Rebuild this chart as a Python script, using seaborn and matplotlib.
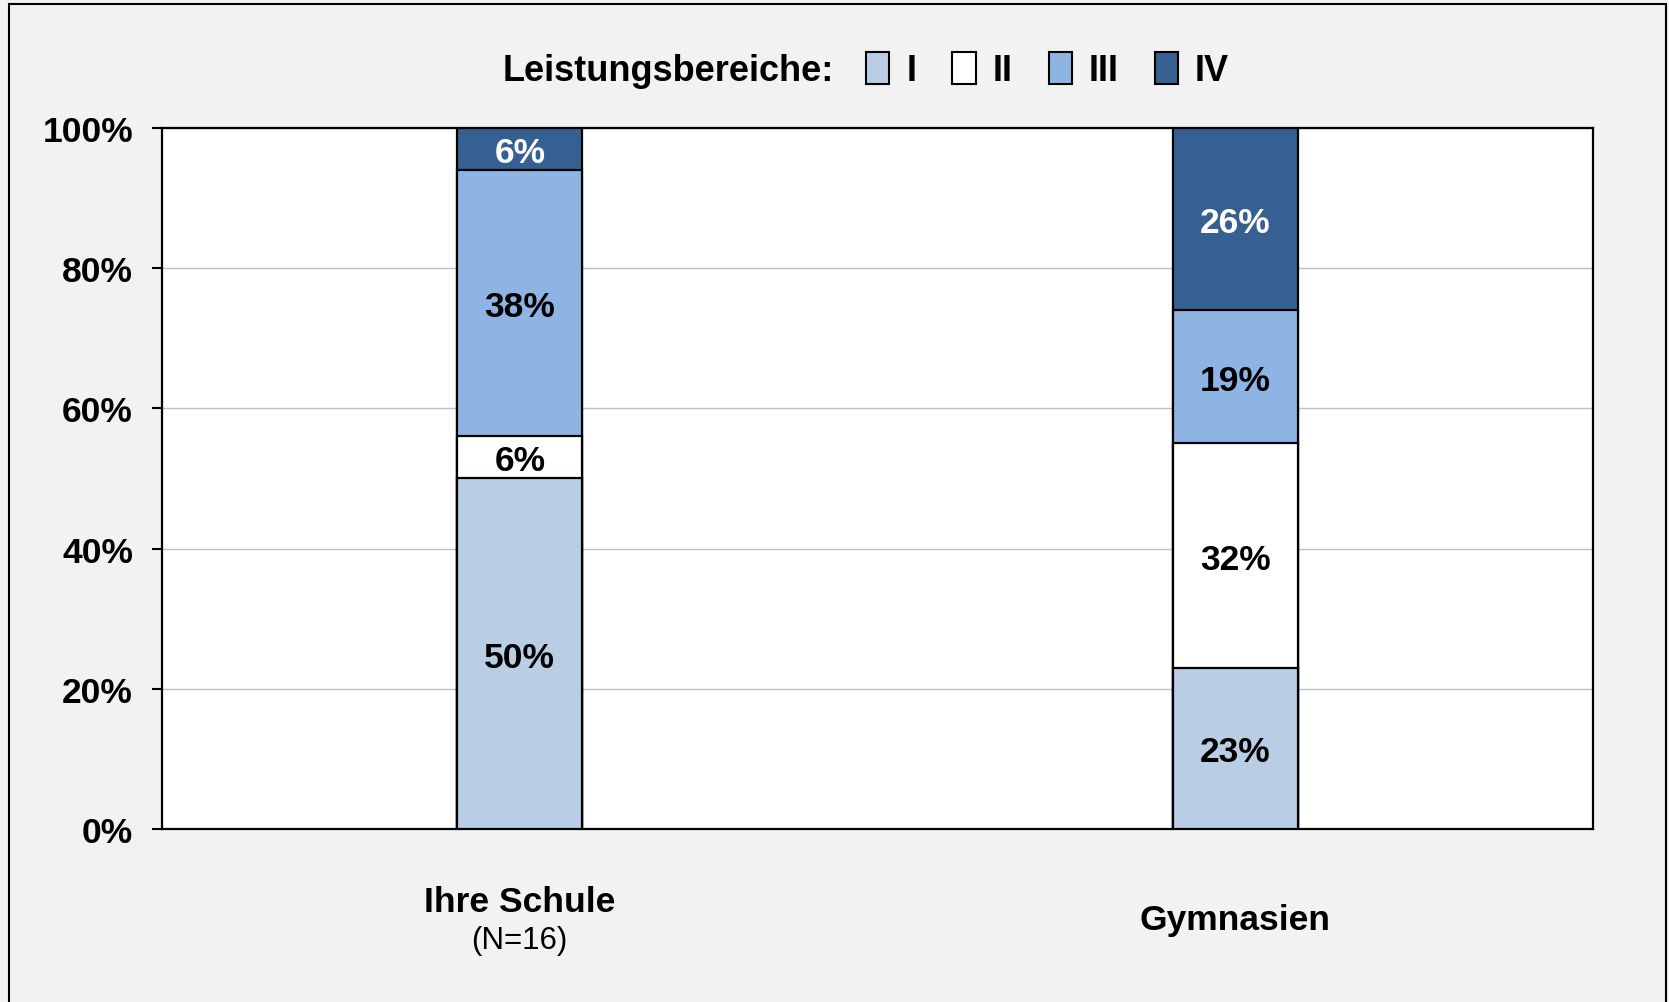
import numpy as np
import pandas as pd
import seaborn as sns
import matplotlib.pyplot as plt
from matplotlib.patches import Patch, Rectangle
import matplotlib.transforms as mtransforms

# DATA

categories = ["Ihre Schule", "Gymnasien"]
sublabels = ["(N=16)", ""]
levels = ["I", "II", "III", "IV"]
level_I = [50, 23]
level_II = [6, 32]
level_III = [38, 19]
level_IV = [6, 26]
colors = ["#B9CDE5", "#FFFFFF", "#8EB4E3", "#366092"]
text_colors = ["black", "black", "black", "white"]

sns.set_theme(style="white")
plt.rcParams['font.family'] = ['Liberation Sans', 'DejaVu Sans']
plt.rcParams['text.color'] = 'black'
plt.rcParams['ytick.labelcolor'] = 'black'

df = pd.DataFrame({"category": categories, "I": level_I, "II": level_II,
                   "III": level_III, "IV": level_IV})
cum = df[levels].cumsum(axis=1)

fig = plt.figure(figsize=(16.69, 10.03), dpi=100)
fig.patch.set_facecolor("#F2F2F2")
ax = fig.add_axes([0.0971, 0.1725, 0.8574, 0.6989])
ax.set_facecolor("white")

# stacked bars: draw cumulative totals from the top down
for lvl, col in reversed(list(zip(levels, colors))):
    sns.barplot(x=df["category"], y=cum[lvl], color=col, width=0.175,
                edgecolor="black", linewidth=1.6, saturation=1, ax=ax, zorder=3)

# value labels in the middle of each segment
for i in range(len(categories)):
    bottom = 0
    for lvl, tc in zip(levels, text_colors):
        v = df.loc[i, lvl]
        ax.text(i, bottom + v / 2 - 0.5, f"{v}%", ha="center", va="center",
                fontsize=25.5, fontweight="bold", color=tc, zorder=5)
        bottom += v

ax.set_xlim(-0.5, 1.5)
ax.set_ylim(0, 100)
ax.set_yticks(np.arange(0, 101, 20))
ax.set_yticklabels([f"{t}%" for t in range(0, 101, 20)], fontsize=25.5,
                   fontweight="bold", color="black")
ax.tick_params(axis="y", left=True, length=7, width=1.5, pad=14, color="black")
ax.tick_params(axis="x", bottom=False)
ax.set_xticks([0, 1])
ax.set_xticklabels(["", ""])
ax.set_xlabel("")
ax.set_ylabel("")
ax.yaxis.grid(True, color="#BFBFBF", linewidth=1)
ax.set_axisbelow(True)
for s in ax.spines.values():
    s.set_color("black")
    s.set_linewidth(1.6)
    s.set_visible(True)

# category labels under the bars
trans = mtransforms.blended_transform_factory(ax.transData, ax.transAxes)
for i, (cat, sub) in enumerate(zip(categories, sublabels)):
    if sub:
        ax.text(i, -0.104, cat, transform=trans, ha="center", va="center",
                fontsize=25.5, fontweight="bold")
        ax.text(i, -0.159, sub, transform=trans, ha="center", va="center", fontsize=22.5)
    else:
        ax.text(i, -0.129, cat, transform=trans, ha="center", va="center",
                fontsize=25.5, fontweight="bold")

# legend at the top
fig.text(0.301, 0.929, "Leistungsbereiche:", ha="left", va="center",
         fontsize=26, fontweight="bold")
handles = [Patch(facecolor=c, edgecolor="black", linewidth=1.5) for c in colors]
leg = fig.legend(handles, levels, loc="center left", bbox_to_anchor=(0.519, 0.929),
                 ncol=4, frameon=False, handlelength=0.64, handleheight=1.0,
                 handletextpad=0.47, columnspacing=1.0, borderaxespad=0,
                 borderpad=0, prop={"size": 26, "weight": "bold"})

# outer frame
fig.patches.append(Rectangle((0.0054, -0.02), 0.9928, 1.015, transform=fig.transFigure,
                             fill=False, edgecolor="black", linewidth=1.5))

fig.savefig("out.png", dpi=100, facecolor=fig.get_facecolor())
